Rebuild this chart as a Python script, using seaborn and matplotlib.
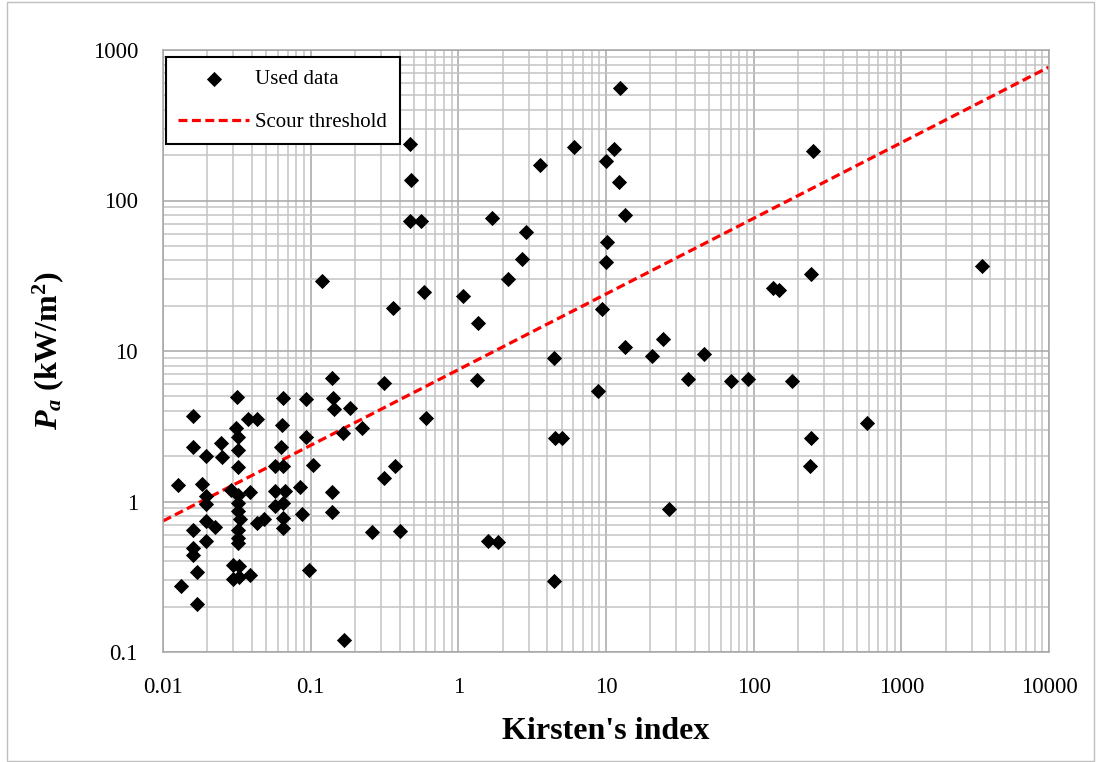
import numpy as np
import pandas as pd
import matplotlib
matplotlib.use('Agg')
import matplotlib.pyplot as plt
import seaborn as sns
from matplotlib.ticker import LogLocator, NullFormatter
from matplotlib.patches import Rectangle

# Kirsten's index (x) e potencia Pa (y)
kirsten = [0.0127, 0.0132, 0.016, 0.016, 0.016, 0.016, 0.016, 0.017, 0.017, 0.0185,
           0.0196, 0.0197, 0.0197, 0.0197, 0.0197, 0.0225, 0.0247, 0.0252, 0.029, 0.030,
           0.030, 0.0317, 0.031, 0.032, 0.032, 0.032, 0.032, 0.032, 0.032, 0.033,
           0.032, 0.032, 0.032, 0.0326, 0.0326, 0.0374, 0.043, 0.0388, 0.039, 0.0435,
           0.048, 0.057, 0.065, 0.057, 0.067, 0.057, 0.065, 0.065, 0.065, 0.065,
           0.064, 0.063, 0.0925, 0.0925, 0.085, 0.088, 0.098, 0.104, 0.119, 0.139,
           0.142, 0.144, 0.139, 0.139, 0.165, 0.169, 0.185, 0.221, 0.261, 0.314,
           0.314, 0.359, 0.372, 0.403, 0.468, 0.48, 0.47, 0.56, 0.588, 0.604,
           1.08, 1.36, 1.34, 1.59, 1.86, 1.68, 2.18, 2.68, 2.87, 3.57,
           4.44, 4.51, 5.0, 4.44, 6.04, 8.85, 9.33, 9.94, 10.0, 10.1,
           11.3, 12.2, 12.4, 13.4, 13.4, 20.6, 24.4, 26.7, 35.7, 46,
           70.1, 91, 135.5, 148, 180.6, 244, 253, 243, 242, 581,
           3525]
pa = [1.28, 0.275, 3.7, 2.3, 0.65, 0.49, 0.44, 0.34, 0.21, 1.3,
      2.0, 1.08, 0.96, 0.74, 0.55, 0.68, 2.45, 1.98, 1.19, 0.38,
      0.304, 4.95, 3.06, 2.67, 2.2, 1.70, 1.10, 0.97, 0.86, 0.77,
      0.65, 0.57, 0.53, 0.37, 0.313, 3.52, 3.52, 1.15, 0.325, 0.72,
      0.77, 1.73, 1.73, 1.17, 1.17, 0.94, 0.97, 0.78, 0.67, 4.9,
      3.22, 2.3, 4.8, 2.7, 1.24, 0.83, 0.35, 1.76, 29.2, 6.6,
      4.9, 4.1, 1.16, 0.85, 2.84, 0.121, 4.2, 3.06, 0.624, 6.15,
      1.43, 19.2, 1.73, 0.637, 236, 137, 73, 73, 24.5, 3.6,
      23.3, 15.4, 6.42, 0.55, 0.54, 77, 30.1, 40.7, 61.8, 171,
      9.0, 2.63, 2.63, 0.298, 227, 5.45, 19.0, 184, 38.8, 53.2,
      219, 133, 556, 80, 10.7, 9.2, 12.0, 0.89, 6.5, 9.5,
      6.3, 6.5, 26.1, 25.4, 6.3, 32.3, 213, 2.65, 1.73, 3.3,
      36.9]

# Limiar de erosao (extremos)
limiar_x = [0.01, 10000]
limiar_y = [0.742, 771]

xticks = [0.01, 0.1, 1, 10, 100, 1000, 10000]
xtick_labels = ['0.01', '0.1', '1', '10', '100', '1000', '10000']
yticks = [0.1, 1, 10, 100, 1000]
ytick_labels = ['0.1', '1', '10', '100', '1000']

plt.rcParams['font.family'] = 'Liberation Serif'
plt.rcParams['mathtext.fontset'] = 'custom'
plt.rcParams['mathtext.it'] = 'Liberation Serif:italic:bold'
plt.rcParams['mathtext.rm'] = 'Liberation Serif:bold'
plt.rcParams['mathtext.bf'] = 'Liberation Serif:bold'

df = pd.DataFrame({'Kirsten': kirsten, 'Pa': pa})
df_lim = pd.DataFrame({'x': limiar_x, 'y': limiar_y})

fig = plt.figure(figsize=(10.96, 7.62), dpi=100)
ax = fig.add_axes([163 / 1096, 1 - 652 / 762, 886 / 1096, 602 / 762])

ax.set_xscale('log')
ax.set_yscale('log')

sns.scatterplot(data=df, x='Kirsten', y='Pa', marker='D', color='black',
                s=60, linewidth=0, label='Used data', ax=ax, zorder=3)
sns.lineplot(data=df_lim, x='x', y='y', color='#FF0000', linewidth=2.3,
             linestyle=(0, (2.8, 1.4)), estimator=None, label='Scour threshold',
             ax=ax, zorder=2)

ax.set_xlim(0.01, 10000)
ax.set_ylim(0.1, 1000)

ax.set_xticks(xticks)
ax.set_xticklabels(xtick_labels)
ax.set_yticks(yticks)
ax.set_yticklabels(ytick_labels)
ax.xaxis.set_minor_locator(LogLocator(base=10, subs=np.arange(2, 10)))
ax.yaxis.set_minor_locator(LogLocator(base=10, subs=np.arange(2, 10)))
ax.xaxis.set_minor_formatter(NullFormatter())
ax.yaxis.set_minor_formatter(NullFormatter())
ax.tick_params(which='both', length=0, labelsize=16.5)
ax.tick_params(axis='x', pad=18)
ax.tick_params(axis='y', pad=18)

ax.set_axisbelow(True)
ax.grid(which='major', color='#A6A6A6', linewidth=1.1)
ax.grid(which='minor', color='#C4C4C4', linewidth=1.1)
for s in ax.spines.values():
    s.set_color('#A6A6A6')
    s.set_linewidth(1.1)

ax.set_xlabel("Kirsten's index", fontsize=23, fontweight='bold')
ax.set_ylabel(r'$P_a$ (kW/m$^2$)', fontsize=23, fontweight='bold')
ax.xaxis.set_label_coords(0.5, -0.108)
ax.yaxis.set_label_coords(-0.11, 0.5)

leg = ax.legend(loc='upper left', bbox_to_anchor=(0.003, 0.988), fontsize=15,
                frameon=True, fancybox=False, edgecolor='black', framealpha=1,
                handlelength=3.4, borderpad=0.6, labelspacing=1.1,
                handletextpad=0.3, borderaxespad=0)
leg.get_frame().set_linewidth(1.5)

# borda da area do grafico
fig.add_artist(Rectangle((7 / 1096, 0.001), (1094 - 7) / 1096, 0.997,
                         transform=fig.transFigure, fill=False,
                         edgecolor='#BFBFBF', linewidth=1))

plt.savefig('out.png', dpi=100)
plt.close()
